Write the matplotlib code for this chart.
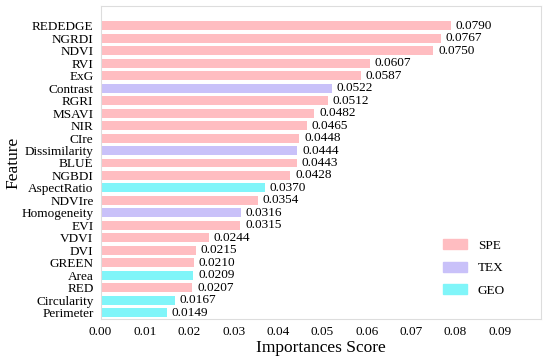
import matplotlib
matplotlib.use("Agg")
import matplotlib.pyplot as plt
from matplotlib.patches import Patch

features = ["REDEDGE", "NGRDI", "NDVI", "RVI", "ExG", "Contrast", "RGRI", "MSAVI", "NIR", "CIre",
            "Dissimilarity", "BLUE", "NGBDI", "AspectRatio", "NDVIre", "Homogeneity", "EVI", "VDVI",
            "DVI", "GREEN", "Area", "RED", "Circularity", "Perimeter"]
values = [0.0790, 0.0767, 0.0750, 0.0607, 0.0587, 0.0522, 0.0512, 0.0482, 0.0465, 0.0448,
          0.0444, 0.0443, 0.0428, 0.0370, 0.0354, 0.0316, 0.0315, 0.0244,
          0.0215, 0.0210, 0.0209, 0.0207, 0.0167, 0.0149]
groups = ["SPE", "SPE", "SPE", "SPE", "SPE", "TEX", "SPE", "SPE", "SPE", "SPE",
          "TEX", "SPE", "SPE", "GEO", "SPE", "TEX", "SPE", "SPE",
          "SPE", "SPE", "GEO", "SPE", "GEO", "GEO"]
xticks = [0.00, 0.01, 0.02, 0.03, 0.04, 0.05, 0.06, 0.07, 0.08, 0.09]

colors = {"SPE": "#FFBDC1", "TEX": "#C9C1F9", "GEO": "#80F5F9"}

plt.rcParams['font.family'] = ['Liberation Serif', 'DejaVu Serif']

fig = plt.figure(figsize=(5.5, 3.62), dpi=100)
ax = fig.add_axes([100.5 / 550, (362 - 319) / 362, 440.5 / 550, 313 / 362])

y = list(range(len(features)))
ax.barh(y, values, height=0.72, color=[colors[g] for g in groups])
for yi, v in zip(y, values):
    ax.text(v + 0.0011, yi, f"{v:.4f}", va="center", ha="left", fontsize=9.5)

ax.set_yticks(y)
ax.set_yticklabels(features, fontsize=9.5)
ax.set_ylim(len(features) - 0.5, -1.58)
ax.set_xlim(0, 0.0993)
ax.set_xticks(xticks)
ax.set_xticklabels([f"{t:.2f}" for t in xticks], fontsize=9.5)
ax.tick_params(length=0)
ax.tick_params(axis='y', pad=5)
ax.tick_params(axis='x', pad=5)
for s in ax.spines.values():
    s.set_color("#DDDDDD")
ax.set_xlabel("Importances Score", fontsize=12.5)
ax.set_ylabel("Feature", fontsize=12.5)
ax.xaxis.set_label_coords(0.5, -0.067)
ax.yaxis.set_label_coords(-0.179, 0.5)

handles = [Patch(color=colors[k], label=k) for k in ["SPE", "TEX", "GEO"]]
ax.legend(handles=handles, loc="lower right", frameon=False, fontsize=9.5,
          handlelength=1.8, handleheight=0.75, labelspacing=0.76, handletextpad=0.8,
          borderaxespad=0, bbox_to_anchor=(0.93, 0.054))

fig.savefig("out.png", dpi=100)
